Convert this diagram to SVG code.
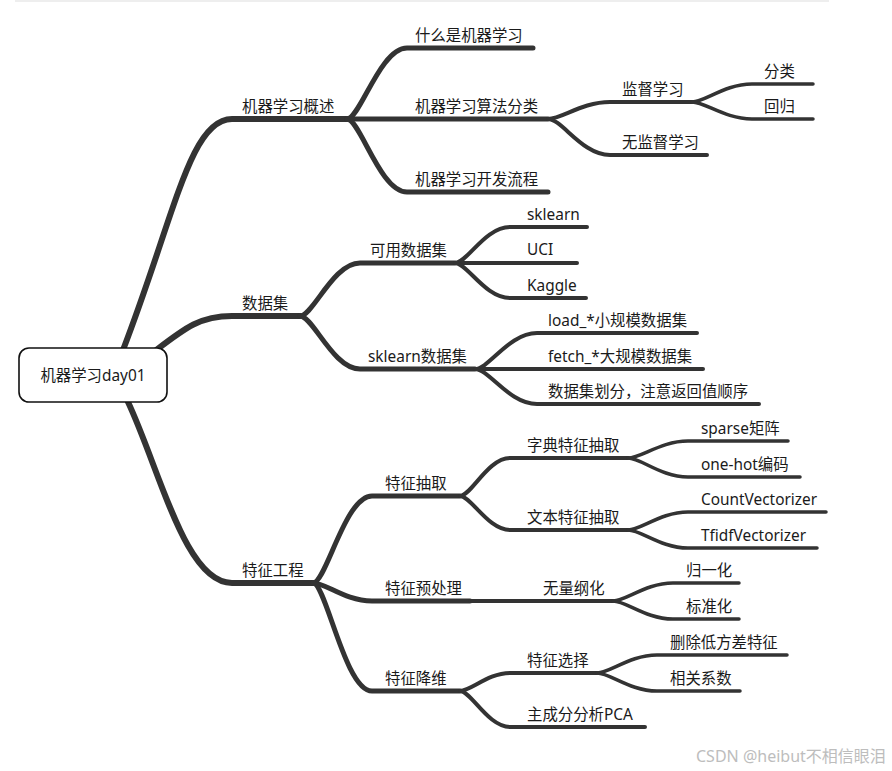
<svg xmlns="http://www.w3.org/2000/svg" width="892" height="771" viewBox="0 0 892 771">
<style>
.c{fill:none;stroke:#333333;stroke-linecap:round;stroke-linejoin:round}
.w6{stroke-width:6}.w5{stroke-width:5}.w4{stroke-width:4}.w3{stroke-width:3.5}
text{font-family:"Noto Sans","Noto Sans CJK SC",sans-serif;font-size:15.4px;fill:#1a1a1a}
.wm{font-size:16px;fill:#bdbdbd}
</style>
<rect x="15" y="0" width="814" height="2" fill="#eeeeee"/>
<g id="connectors">
<path class="c w6" d="M123,350 C175,215 190,119 232,119 H347"/>
<path class="c w6" d="M155,351 C185,328 200,316 232,316 H300"/>
<path class="c w6" d="M128,402 C160,470 185,583 232,583 H313"/>
<path class="c w5" d="M347,119 C360,119 380,48 407,48 H533"/>
<path class="c w5" d="M347,119 H548"/>
<path class="c w5" d="M347,119 C360,119 380,192 407,192 H548"/>
<path class="c w4" d="M548,119 C562,119 582,102 610,102 H692"/>
<path class="c w4" d="M548,119 C562,119 582,155 610,155 H707"/>
<path class="c w3" d="M692,102 C705,102 725,84 752,84 H813"/>
<path class="c w3" d="M692,102 C705,102 725,119 752,119 H813"/>
<path class="c w5" d="M300,316 C313,316 333,263 360,263 H455"/>
<path class="c w5" d="M300,316 C313,316 333,369 360,369 H475"/>
<path class="c w4" d="M455,263 C467,263 485,227 510,227 H587"/>
<path class="c w4" d="M455,263 H577"/>
<path class="c w4" d="M455,263 C467,263 485,298 510,298 H586"/>
<path class="c w4" d="M475,369 C489,369 509,333 537,333 H697"/>
<path class="c w4" d="M475,369 H703"/>
<path class="c w4" d="M475,369 C489,369 509,404 537,404 H759"/>
<path class="c w5" d="M313,583 C326,583 345,496 372,496 H460"/>
<path class="c w5" d="M313,583 C326,583 345,601 372,601 H470"/>
<path class="c w5" d="M313,583 C326,583 345,691 372,691 H460"/>
<path class="c w4" d="M460,496 C471,496 488,458 510,458 H628"/>
<path class="c w4" d="M460,496 C471,496 488,530 510,530 H628"/>
<path class="c w3" d="M628,458 C641,458 661,441 688,441 H788"/>
<path class="c w3" d="M628,458 C641,458 661,477 688,477 H800"/>
<path class="c w3" d="M628,530 C641,530 661,512 688,512 H826"/>
<path class="c w3" d="M628,530 C641,530 661,548 688,548 H817"/>
<path class="c w4" d="M470,601 H613"/>
<path class="c w3" d="M613,601 C626,601 646,583 673,583 H739"/>
<path class="c w3" d="M613,601 C626,601 646,619 673,619 H739"/>
<path class="c w4" d="M460,691 C471,691 488,673 510,673 H597"/>
<path class="c w4" d="M460,691 C471,691 488,727 510,727 H645"/>
<path class="c w3" d="M597,673 C610,673 630,655 657,655 H787"/>
<path class="c w3" d="M597,673 C610,673 630,691 657,691 H740"/>
</g>
<g id="root">
<rect x="19" y="348" width="148" height="54" rx="10" fill="#ffffff" stroke="#111111" stroke-width="1.6"/>
<text x="93" y="381" text-anchor="middle">机器学习day01</text>
</g>
<g id="n-gaishu"><text x="242" y="112">机器学习概述</text></g>
<g id="n-shujuji"><text x="242" y="309">数据集</text></g>
<g id="n-tezhenggongcheng"><text x="242" y="576">特征工程</text></g>
<g id="n-shenme"><text x="415" y="41">什么是机器学习</text></g>
<g id="n-suanfa"><text x="415" y="112">机器学习算法分类</text></g>
<g id="n-liucheng"><text x="415" y="185">机器学习开发流程</text></g>
<g id="n-jiandu"><text x="622" y="95">监督学习</text></g>
<g id="n-wujiandu"><text x="622" y="148">无监督学习</text></g>
<g id="n-fenlei"><text x="764" y="77">分类</text></g>
<g id="n-huigui"><text x="764" y="112">回归</text></g>
<g id="n-keyong"><text x="370" y="256">可用数据集</text></g>
<g id="n-sklearnds"><text x="368" y="362">sklearn数据集</text></g>
<g id="n-sklearn"><text x="527" y="220">sklearn</text></g>
<g id="n-uci"><text x="527" y="255">UCI</text></g>
<g id="n-kaggle"><text x="527" y="291">Kaggle</text></g>
<g id="n-load"><text x="548" y="326">load_*小规模数据集</text></g>
<g id="n-fetch"><text x="548" y="362">fetch_*大规模数据集</text></g>
<g id="n-split"><text x="548" y="397">数据集划分，注意返回值顺序</text></g>
<g id="n-chouqu"><text x="385" y="489">特征抽取</text></g>
<g id="n-yuchuli"><text x="385" y="594">特征预处理</text></g>
<g id="n-jiangwei"><text x="385" y="684">特征降维</text></g>
<g id="n-zidian"><text x="527" y="451">字典特征抽取</text></g>
<g id="n-wenben"><text x="527" y="523">文本特征抽取</text></g>
<g id="n-wuliang"><text x="543" y="594">无量纲化</text></g>
<g id="n-xuanze"><text x="527" y="666">特征选择</text></g>
<g id="n-pca"><text x="527" y="720">主成分分析PCA</text></g>
<g id="n-sparse"><text x="701" y="434">sparse矩阵</text></g>
<g id="n-onehot"><text x="701" y="470">one-hot编码</text></g>
<g id="n-count"><text x="701" y="505">CountVectorizer</text></g>
<g id="n-tfidf"><text x="701" y="541">TfidfVectorizer</text></g>
<g id="n-guiyi"><text x="686" y="576">归一化</text></g>
<g id="n-biaozhun"><text x="686" y="612">标准化</text></g>
<g id="n-shanchu"><text x="670" y="648">删除低方差特征</text></g>
<g id="n-xiangguan"><text x="670" y="684">相关系数</text></g>
<text class="wm" x="696" y="762">CSDN @heibut不相信眼泪</text>
</svg>
